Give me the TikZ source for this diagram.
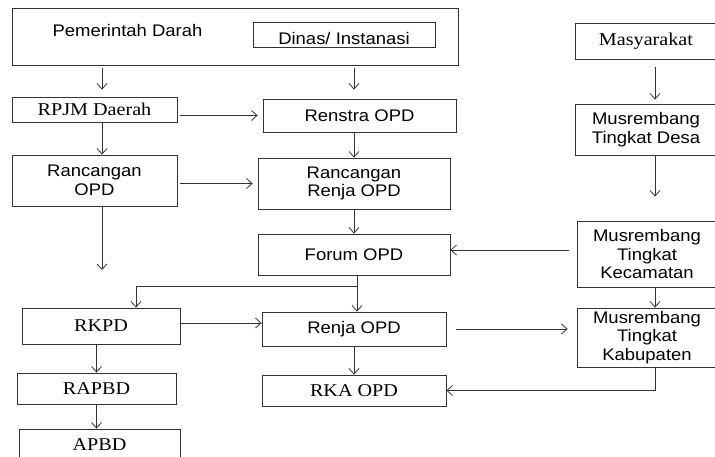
\documentclass[tikz,border=0pt]{standalone}
\usepackage{fontspec}
\setmainfont{Liberation Serif}
\newfontfamily\sansf[FakeStretch=1.1]{Liberation Sans}
\newfontfamily\serff[FakeStretch=1.12]{Liberation Serif}
\usetikzlibrary{arrows.meta}

\begin{document}
\begin{tikzpicture}[x=1pt, y=-1pt,
  box/.style={draw=black!80, line width=0.8pt, inner sep=1pt, align=center},
  sbox/.style={box, font=\sansf\fontsize{16.8}{18.5}\selectfont},
  tbox/.style={box, font=\serff\fontsize{18}{20}\selectfont},
  arr/.style={draw=black!80, line width=0.8pt, -{Straight Barb[length=5.5pt,width=10pt]}}]

\useasboundingbox (0,0) rectangle (715,457);
\clip (0,0) rectangle (715,457);

%---------------------------------------
% Columns
%---------------------------------------
\coordinate (colA) at (102,0);
\coordinate (colB) at (354,0);
\coordinate (colC) at (655,0);
\coordinate (colF) at (357,0);
\coordinate (colK) at (136,0);
\coordinate (split) at (357,286);
\coordinate (rancend) at (102,270);

%---------------------------------------
% Top: Pemerintah Darah
%---------------------------------------
\node[box, minimum width=446, minimum height=57] (pemda) at (235,36.5) {};
\node[font=\sansf\fontsize{16.8}{18.5}\selectfont] (pemdatxt) at (127.5,30) {Pemerintah Darah};
\node[sbox, minimum width=182, minimum height=25, text height=20pt, text depth=0pt] (dinas) at (344,34.5) {Dinas/ Instanasi};

%---------------------------------------
% Left column
%---------------------------------------
\node[tbox, minimum width=165, minimum height=25] (rpjm) at (94.5,109.5) {RPJM Daerah};
\node[sbox, minimum width=165, minimum height=51] (rancopd) at (94.5,180.5) {Rancangan\\OPD};
\node[tbox, minimum width=158, minimum height=36] (rkpd) at (101,326) {RKPD};
\node[tbox, minimum width=159, minimum height=31] (rapbd) at (96.5,388.5) {RAPBD};
\node[tbox, minimum width=161, minimum height=31] (apbd) at (99.5,444.5) {APBD};

%---------------------------------------
% Middle column
%---------------------------------------
\node[sbox, minimum width=193, minimum height=33] (renstra) at (359.5,115.5) {Renstra OPD};
\node[sbox, minimum width=192, minimum height=51] (rancrenja) at (354,183.5) {Rancangan\\Renja OPD};
\node[sbox, minimum width=192, minimum height=41] (forum) at (354,254.5) {Forum OPD};
\node[sbox, minimum width=184, minimum height=34] (renja) at (354,329) {Renja OPD};
\node[tbox, minimum width=184, minimum height=31] (rka) at (354,390.5) {RKA OPD};

%---------------------------------------
% Right column
%---------------------------------------
\node[tbox, minimum width=142, minimum height=36] (masy) at (646,41) {Masyarakat};
\node[sbox, minimum width=142, minimum height=51] (desa) at (646,129.5) {Musrembang\\Tingkat Desa};
\node[sbox, minimum width=140, minimum height=66] (kec) at (647,254) {Musrembang\\Tingkat\\Kecamatan};
\node[sbox, minimum width=140, minimum height=59] (kab) at (647,337.5) {Musrembang\\Tingkat\\Kabupaten};

\coordinate (kecout) at ([yshift=4pt]kec.west);
\coordinate (rkpdout) at ([yshift=3pt]rkpd.east);

%---------------------------------------
% Arrows
%---------------------------------------
\draw[arr, shorten <=3pt, shorten >=7pt] (pemda.south -| colA) -- (rpjm.north -| colA);
\draw[arr, shorten <=3pt, shorten >=9pt] (pemda.south -| colB) -- (renstra.north -| colB);
\draw[arr, shorten <=3pt, shorten >=5pt] (rpjm.east |- renstra.west) -- (renstra.west);
\draw[arr] (rpjm.south -| colA) -- (rancopd.north -| colA);
\draw[arr] (renstra.south -| colB) -- (rancrenja.north -| colB);
\draw[arr, shorten <=3pt, shorten >=5pt] (rancopd.east |- rancrenja.west) -- (rancrenja.west);
\draw[arr] (rancopd.south -| colA) -- (rancend);
\draw[arr] (rancrenja.south) -- (forum.north);
\draw[arr, shorten <=8pt] (kecout) -- (kecout -| forum.east);
\draw[arr] (forum.south -| colF) -- (renja.north -| colF);
\draw[arr] (split) -| (rkpd.north -| colK);
\draw[arr] (rkpdout) -- (rkpdout -| renja.west);
\draw[arr, shorten <=10pt, shorten >=9pt] (renja.east) -- (renja.east -| kab.west);
\draw[arr] (renja.south) -- (rka.north);
\draw[arr] (kab.south -| colC) |- (rka.east);
\draw[arr] (rkpd.south -| rapbd.north) -- (rapbd.north);
\draw[arr] (rapbd.south) -- (rapbd.south |- apbd.north);
\draw[arr, shorten <=8pt, shorten >=4pt] (masy.south -| colC) -- (desa.north -| colC);
\draw[arr, shorten >=24pt] (desa.south -| colC) -- (kec.north -| colC);
\draw[arr] (kec.south -| colC) -- (kab.north -| colC);

\end{tikzpicture}
\end{document}
